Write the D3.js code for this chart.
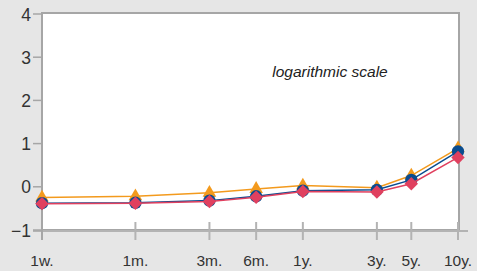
<!DOCTYPE html>
<html>
<head>
<meta charset="utf-8">
<script src="https://cdn.jsdelivr.net/npm/d3@7"></script>
<style>
  html, body { margin: 0; padding: 0; background: #e6e6e6; }
  svg { display: block; font-family: "Liberation Sans", Arial, sans-serif; }
</style>
</head>
<body>
<div id="vis"></div>
<script>
// maturities in months (1w drawn as a quarter month)
var maturities = [0.25, 1, 3, 6, 12, 36, 60, 120];
var tickLabels = ['1w.', '1m.', '3m.', '6m.', '1y.', '3y.', '5y.', '10y.'];
var orangeSeries = [-0.25, -0.22, -0.14, -0.05, 0.03, -0.02, 0.26, 0.89];
var blueSeries = [-0.38, -0.37, -0.32, -0.22, -0.09, -0.07, 0.16, 0.82];
var redSeries = [-0.39, -0.38, -0.34, -0.24, -0.11, -0.12, 0.07, 0.68];
var yTicks = [-1, 0, 1, 2, 3, 4];

var width = 477;
var height = 271;
var plotLeft = 42, plotRight = 459, plotTop = 13, plotBottom = 230;

var svg = d3.select('#vis').append('svg')
  .attr('width', width)
  .attr('height', height);

var x = d3.scaleLog().domain([0.25, 120]).range([plotLeft, plotRight - 1]);
var y = d3.scaleLinear().domain([-1, 4]).range([plotBottom, plotTop + 1]);

// white plot area with grey frame
svg.append('rect')
  .attr('x', plotLeft).attr('y', plotTop)
  .attr('width', plotRight - plotLeft).attr('height', plotBottom - plotTop)
  .attr('fill', '#fff')
  .attr('stroke', '#a6a6a6')
  .attr('stroke-width', 2);

// x axis line + cross ticks
svg.append('line')
  .attr('x1', 33).attr('x2', 468)
  .attr('y1', plotBottom + 1).attr('y2', plotBottom + 1)
  .attr('stroke', '#b3b3b3').attr('stroke-width', 2);

svg.selectAll('.xtick')
  .data(maturities)
  .enter().append('line')
  .attr('x1', function(d) { return x(d); })
  .attr('x2', function(d) { return x(d); })
  .attr('y1', plotBottom - 8).attr('y2', plotBottom + 10)
  .attr('stroke', '#b3b3b3').attr('stroke-width', 2);

svg.selectAll('.xlabel')
  .data(maturities)
  .enter().append('text')
  .attr('x', function(d) { return x(d); })
  .attr('y', 266)
  .attr('text-anchor', 'middle')
  .attr('font-size', 15.5)
  .attr('fill', '#333')
  .text(function(d, i) { return tickLabels[i]; });

// y axis
svg.append('line')
  .attr('x1', plotLeft).attr('x2', plotLeft)
  .attr('y1', plotTop).attr('y2', plotBottom + 10)
  .attr('stroke', '#a6a6a6').attr('stroke-width', 2);

svg.selectAll('.ytick')
  .data(yTicks)
  .enter().append('line')
  .attr('x1', 33).attr('x2', plotLeft)
  .attr('y1', function(d) { return y(d); })
  .attr('y2', function(d) { return y(d); })
  .attr('stroke', '#a6a6a6').attr('stroke-width', 1.5);

svg.selectAll('.ylabel')
  .data(yTicks)
  .enter().append('text')
  .attr('x', 31)
  .attr('y', function(d) { return y(d) + 6.5; })
  .attr('text-anchor', 'end')
  .attr('font-size', 17.5)
  .attr('fill', '#333')
  .text(function(d) { return d < 0 ? '\u2212' + Math.abs(d) : d; });

svg.append('text')
  .attr('x', 330).attr('y', 77)
  .attr('text-anchor', 'middle')
  .attr('font-size', 15.5)
  .attr('font-style', 'italic')
  .attr('fill', '#222')
  .text('logarithmic scale');

var line = d3.line()
  .x(function(d, i) { return x(maturities[i]); })
  .y(function(d) { return y(d); });

function drawSeries(values, color, symbol, size, rotate) {
  svg.append('path')
    .datum(values)
    .attr('d', line)
    .attr('fill', 'none')
    .attr('stroke', color)
    .attr('stroke-width', 1.5);
  svg.selectAll(null)
    .data(values)
    .enter().append('path')
    .attr('d', d3.symbol().type(symbol).size(size))
    .attr('transform', function(d, i) {
      return 'translate(' + x(maturities[i]) + ',' + y(d) + ') rotate(' + rotate + ')';
    })
    .attr('fill', color);
}

drawSeries(orangeSeries, '#f39a1d', d3.symbolTriangle, 80, 0);
drawSeries(blueSeries, '#0a4c8f', d3.symbolCircle, 120, 0);
drawSeries(redSeries, '#e0405f', d3.symbolSquare, 90, 45);
</script>
</body>
</html>
